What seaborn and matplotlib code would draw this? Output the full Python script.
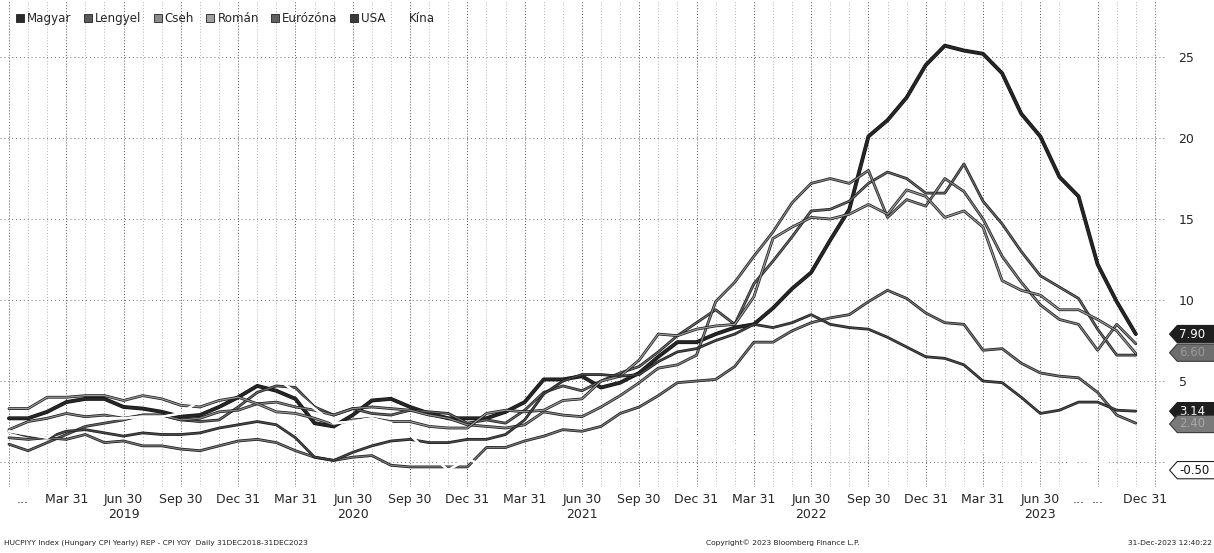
import matplotlib
matplotlib.use("Agg")
import numpy as np
import pandas as pd
import matplotlib.pyplot as plt
import matplotlib.transforms as mtransforms
from matplotlib import patheffects as pe
from matplotlib.path import Path
from matplotlib.lines import Line2D
import seaborn as sns

# ---------------- data (monthly YoY CPI, Dec 2018 .. Nov 2023) ----------------
months = pd.period_range("2018-12", "2023-11", freq="M")

magyar = [2.7,
          2.7, 3.1, 3.7, 3.9, 3.9, 3.4, 3.3, 3.1, 2.8, 2.9, 3.4, 4.0,
          4.7, 4.4, 3.9, 2.4, 2.2, 2.9, 3.8, 3.9, 3.4, 3.0, 2.7, 2.7,
          2.7, 3.1, 3.7, 5.1, 5.1, 5.3, 4.6, 4.9, 5.5, 6.5, 7.4, 7.4,
          7.9, 8.3, 8.5, 9.5, 10.7, 11.7, 13.7, 15.6, 20.1, 21.1, 22.5, 24.5,
          25.7, 25.4, 25.2, 24.0, 21.5, 20.1, 17.6, 16.4, 12.2, 9.9, 7.9]
lengyel = [1.1,
           0.7, 1.2, 1.7, 2.2, 2.4, 2.6, 2.9, 2.9, 2.6, 2.5, 2.6, 3.4,
           4.3, 4.7, 4.6, 3.4, 2.9, 3.3, 3.0, 2.9, 3.2, 3.1, 3.0, 2.4,
           2.6, 2.4, 3.2, 4.3, 4.7, 4.4, 5.0, 5.5, 5.9, 6.8, 7.8, 8.6,
           9.4, 8.5, 11.0, 12.4, 13.9, 15.5, 15.6, 16.1, 17.2, 17.9, 17.5, 16.6,
           16.6, 18.4, 16.1, 14.7, 13.0, 11.5, 10.8, 10.1, 8.2, 6.6, 6.6]
cseh = [2.0,
        2.5, 2.7, 3.0, 2.8, 2.9, 2.7, 2.9, 2.9, 2.6, 2.7, 3.1, 3.2,
        3.6, 3.7, 3.4, 3.2, 2.9, 3.3, 3.4, 3.3, 3.2, 2.9, 2.7, 2.3,
        2.2, 2.1, 2.3, 3.1, 2.9, 2.8, 3.4, 4.1, 4.9, 5.8, 6.0, 6.6,
        9.9, 11.1, 12.7, 14.2, 16.0, 17.2, 17.5, 17.2, 18.0, 15.1, 16.2, 15.8,
        17.5, 16.7, 15.0, 12.7, 11.1, 9.7, 8.8, 8.5, 6.9, 8.5, 7.3]
roman = [3.3,
         3.3, 4.0, 4.0, 4.1, 4.1, 3.8, 4.1, 3.9, 3.5, 3.4, 3.8, 4.0,
         3.6, 3.1, 3.0, 2.7, 2.3, 2.6, 2.7, 2.5, 2.5, 2.2, 2.1, 2.1,
         3.0, 3.2, 3.1, 3.2, 3.8, 3.9, 5.0, 5.3, 6.3, 7.9, 7.8, 8.2,
         8.4, 8.5, 10.2, 13.8, 14.5, 15.1, 15.0, 15.3, 15.9, 15.3, 16.8, 16.4,
         15.1, 15.5, 14.5, 11.2, 10.6, 10.3, 9.4, 9.4, 8.8, 8.1, 6.7]
eurozona = [1.5,
            1.4, 1.5, 1.4, 1.7, 1.2, 1.3, 1.0, 1.0, 0.8, 0.7, 1.0, 1.3,
            1.4, 1.2, 0.7, 0.3, 0.1, 0.3, 0.4, -0.2, -0.3, -0.3, -0.3, -0.3,
            0.9, 0.9, 1.3, 1.6, 2.0, 1.9, 2.2, 3.0, 3.4, 4.1, 4.9, 5.0,
            5.1, 5.9, 7.4, 7.4, 8.1, 8.6, 8.9, 9.1, 9.9, 10.6, 10.1, 9.2,
            8.6, 8.5, 6.9, 7.0, 6.1, 5.5, 5.3, 5.2, 4.3, 2.9, 2.4]
usa = [1.9,
       1.6, 1.5, 1.9, 2.0, 1.8, 1.6, 1.8, 1.7, 1.7, 1.8, 2.1, 2.3,
       2.5, 2.3, 1.5, 0.3, 0.1, 0.6, 1.0, 1.3, 1.4, 1.2, 1.2, 1.4,
       1.4, 1.7, 2.6, 4.2, 5.0, 5.4, 5.4, 5.3, 5.4, 6.2, 6.8, 7.0,
       7.5, 7.9, 8.5, 8.3, 8.6, 9.1, 8.5, 8.3, 8.2, 7.7, 7.1, 6.5,
       6.4, 6.0, 5.0, 4.9, 4.0, 3.0, 3.2, 3.7, 3.7, 3.2, 3.14]
kina = [1.9,
        1.7, 1.5, 2.3, 2.5, 2.7, 2.7, 2.8, 2.8, 3.0, 3.8, 4.5, 4.5,
        5.4, 5.2, 4.3, 3.3, 2.4, 2.5, 2.7, 2.4, 1.7, 0.5, -0.5, 0.2,
        -0.3, -0.2, 0.4, 0.9, 1.3, 1.1, 1.0, 0.8, 0.7, 1.5, 2.3, 1.5,
        0.9, 0.9, 1.5, 2.1, 2.1, 2.5, 2.7, 2.5, 2.8, 2.1, 1.6, 1.8,
        2.1, 1.0, 0.7, 0.1, 0.2, 0.0, -0.3, 0.1, 0.0, -0.2, -0.5]

series_names = ["Magyar", "Lengyel", "Cseh", "Román", "Eurózóna", "USA", "Kína"]
series_values = [magyar, lengyel, cseh, roman, eurozona, usa, kina]

# x tick labels (quarter ends) and their month index (0 = Dec 2018)
tick_pos = [0.7, 3, 6, 9, 12, 15, 18, 21, 24, 27, 30, 33, 36, 39, 42, 45, 48,
            51, 54, 56, 57, 59.5]
tick_labels = ["...", "Mar 31", "Jun 30\n2019", "Sep 30", "Dec 31", "Mar 31",
               "Jun 30\n2020", "Sep 30", "Dec 31", "Mar 31", "Jun 30\n2021",
               "Sep 30", "Dec 31", "Mar 31", "Jun 30\n2022", "Sep 30", "Dec 31",
               "Mar 31", "Jun 30\n2023", "...", "...", "Dec 31"]
y_ticks = [0, 5, 10, 15, 20, 25]
y_labels = ["", "5", "10", "15", "20", "25"]

# ---------------- styling ----------------
inner = {"Magyar": "#262626", "Lengyel": "#6a6a6a", "Cseh": "#8a8a8a",
         "Román": "#9a9a9a", "Eurózóna": "#7a7a7a", "USA": "#4a4a4a",
         "Kína": "#ffffff"}
swatch = {"Magyar": "#2a2a2a", "Lengyel": "#5a5a5a", "Cseh": "#8c8c8c",
          "Román": "#a0a0a0", "Eurózóna": "#606060", "USA": "#3a3a3a",
          "Kína": "#ffffff"}

sns.set_style("white")
plt.rcParams["font.family"] = ["DejaVu Sans"]

fig = plt.figure(figsize=(12.14, 5.53), dpi=100)
ax = fig.add_axes([0.0, 66 / 553, 1166 / 1214, 487 / 553])

rows = []
for name, vals in zip(series_names, series_values):
    for i, v in enumerate(vals):
        rows.append({"idx": i, "value": v, "country": name,
                     "month": str(months[i])})
df = pd.DataFrame(rows)

for k, name in enumerate(series_names):
    sub = df[df["country"] == name]
    if name == "Magyar":
        lw, outer_lw, outer_c = 1.9, 2.8, "#111111"
    elif name == "Kína":
        lw, outer_lw, outer_c = 1.6, 1.6, "#ffffff"
    else:
        lw, outer_lw, outer_c = 0.9, 2.0, "#1c1c1c"
    sns.lineplot(data=sub, x="idx", y="value", color=inner[name], lw=lw,
                 ax=ax, legend=False, zorder=3 + k)
    line = ax.lines[-1]
    line.set_path_effects([pe.Stroke(linewidth=outer_lw, foreground=outer_c),
                           pe.Normal()])
    line.set_solid_joinstyle("round")

# axes ranges
ax.set_xlim(-0.47, 60.58)
ax.set_ylim(-1.54, 28.52)

# grid
ax.set_xticks(range(0, 61), minor=True)
ax.grid(False)
ax.grid(axis="x", which="minor", color="#9a9a9a", lw=0.6, ls=(0, (1, 2.5)))
ax.grid(axis="y", which="major", color="#707070", lw=0.7, ls=(0, (1, 3)))
for q in range(0, 61, 3):
    ax.axvline(q, color="#505050", lw=0.7, ls=(0, (1, 2)), zorder=0.5)
ax.set_xticks(tick_pos)
ax.set_xticklabels(tick_labels, fontsize=9)
ax.set_axisbelow(True)

ax.yaxis.tick_right()
ax.set_yticks(y_ticks)
ax.set_yticklabels(y_labels, fontsize=9)
ax.tick_params(axis="y", length=0, pad=9)
ax.tick_params(axis="x", which="both", length=0, pad=4)
for s in ax.spines.values():
    s.set_visible(False)
ax.set_xlabel("")
ax.set_ylabel("")

# legend
handles = [Line2D([], [], marker="s", ls="", markersize=6,
                  markerfacecolor=swatch[n],
                  markeredgecolor=("#ffffff" if n == "Kína" else "#222222"),
                  markeredgewidth=0.6)
           for n in series_names]
leg = ax.legend(handles, series_names, loc="upper left", ncol=7,
                bbox_to_anchor=(0.007, 0.992), frameon=False, fontsize=8.6,
                handlelength=0.6, handletextpad=0.3, columnspacing=1.05,
                borderaxespad=0.3)
leg.set_zorder(20)


# value tags on the right edge
def tag_box(x0, y0, width, height, mutation_size):
    pad = 0.18 * mutation_size
    x0 -= pad
    y0 -= pad
    w = width + 2 * pad + 20
    h = height + 2 * pad
    tip = h * 0.45
    verts = [(x0, y0), (x0 + w, y0), (x0 + w, y0 + h), (x0, y0 + h),
             (x0 - tip, y0 + h / 2), (x0, y0)]
    return Path(verts, closed=True)


trans = mtransforms.blended_transform_factory(ax.transAxes, ax.transData)
tags = [("7.90", magyar[-1], "#1e1e1e", "#1e1e1e", "white"),
        ("6.60", 6.75, "#6e6e6e", "#3a3a3a", "#9a9a9a"),
        ("3.14", usa[-1], "#1e1e1e", "#1e1e1e", "white"),
        ("2.40", 2.35, "#7a7a7a", "#3a3a3a", "#a8a8a8"),
        ("-0.50", kina[-1], "white", "#222222", "#111111")]
for txt, yv, fc, ec, tc in tags:
    ax.text(1.0115, yv, txt, transform=trans, ha="left", va="center",
            fontsize=8.5, color=tc, clip_on=False, zorder=30,
            bbox=dict(boxstyle=tag_box, fc=fc, ec=ec, lw=0.8))

# footer
fig.text(0.003, 0.012, "HUCPIYY Index (Hungary CPI Yearly) REP - CPI YOY  Daily 31DEC2018-31DEC2023",
         fontsize=5.4, ha="left", va="bottom", color="#222222")
fig.text(706 / 1214, 0.012, "Copyright© 2023 Bloomberg Finance L.P.",
         fontsize=5.4, ha="left", va="bottom", color="#222222")
fig.text(0.998, 0.012, "31-Dec-2023 12:40:22",
         fontsize=5.4, ha="right", va="bottom", color="#222222")

fig.savefig("out.png", dpi=100, facecolor="white")
